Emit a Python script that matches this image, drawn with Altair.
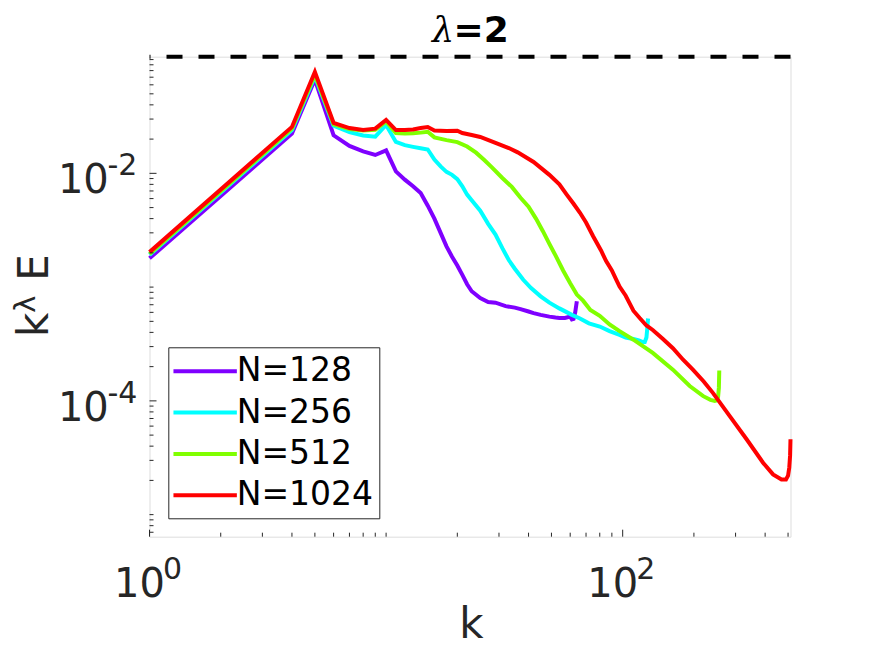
import altair as alt
import pandas as pd

series_names = ["N=128", "N=256", "N=512", "N=1024"]
series_colors = ["#7F00FF", "#00FFFF", "#80FF00", "#FF0000"]

k_128 = [1, 4, 5, 6, 7, 8, 9, 10, 11, 12, 13, 14, 15, 16, 17, 18, 19, 20, 21, 22, 23,
         25, 27, 29, 32, 35, 37, 40, 42, 45, 49, 52, 54, 57, 60, 61, 62, 63, 64]
e_128 = [1.79e-3, 0.0224, 0.0668, 0.0216, 0.0174, 0.0156, 0.0145, 0.0159, 0.0104, 0.0088,
         0.0077, 0.0067, 0.0052, 0.0040, 0.0030, 0.00228, 0.00185, 0.00155, 0.00128, 0.00106,
         0.00092, 0.00080, 0.00074, 0.00073, 0.00068, 0.00066, 0.00064, 0.00061, 0.00059,
         0.00057, 0.00055, 0.00054, 0.000535, 0.000535, 0.00055, 0.00052, 0.000525, 0.00060,
         0.00075]

k_256 = [1, 4, 5, 6, 7, 8, 9, 10, 11, 12, 13, 14, 15, 16, 17, 18, 19, 20, 21, 22, 23,
         25, 27, 29, 31, 33, 35, 38, 41, 45, 49, 54, 61, 66, 72, 80, 88, 97, 103, 111, 117,
         121, 124, 126, 127, 128]
e_256 = [1.92e-3, 0.0240, 0.0712, 0.0262, 0.0230, 0.0215, 0.0210, 0.0266, 0.0189, 0.0177,
         0.0171, 0.0166, 0.0162, 0.0132, 0.0115, 0.0103, 0.0097, 0.0089, 0.0077, 0.0065,
         0.0058, 0.0047, 0.0036, 0.0029, 0.0022, 0.00173, 0.00145, 0.00116, 0.00098, 0.00083,
         0.00073, 0.00065, 0.00057, 0.00053, 0.00048, 0.00045, 0.00041, 0.00038, 0.00036,
         0.00035, 0.00034, 0.00033, 0.00033, 0.00036, 0.00043, 0.00053]

k_512 = [1, 4, 5, 6, 7, 8, 9, 10, 11, 12, 13, 14, 15, 16, 18, 20, 22, 24, 26, 28, 31, 34,
         37, 40, 43, 46, 49, 52, 56, 60, 64, 68, 73, 80, 88, 97, 111, 134, 163, 192, 219,
         235, 245, 250, 253, 255, 256]
e_512 = [1.95e-3, 0.0247, 0.0735, 0.0270, 0.0245, 0.0238, 0.0242, 0.0285, 0.0226, 0.0224,
         0.0225, 0.0228, 0.0232, 0.0207, 0.0196, 0.0188, 0.0172, 0.0152, 0.0131, 0.0113,
         0.0091, 0.0076, 0.0061, 0.0051, 0.0040, 0.0031, 0.0024, 0.0019, 0.00140, 0.00108,
         0.00086, 0.00076, 0.00063, 0.00056, 0.00047, 0.00041, 0.000345, 0.000264, 0.000188,
         0.000135, 0.000110, 0.000102, 0.000100, 0.000101, 0.000108, 0.00013, 0.000185]

k_1024 = [1, 4, 5, 6, 7, 8, 9, 10, 11, 12, 13, 14, 15, 16, 18, 20, 21, 23, 25, 29, 33, 36,
          42, 49, 54, 58, 62, 66, 70, 75, 81, 85, 90, 94, 97, 103, 107, 111, 118, 126, 134,
          148, 163, 180, 198, 220, 241, 284, 334, 392, 432, 469, 490, 500, 506, 510, 512]
e_1024 = [2.03e-3, 0.0256, 0.0778, 0.0277, 0.0250, 0.0240, 0.0247, 0.0295, 0.0240, 0.0240,
          0.0243, 0.0250, 0.0255, 0.0238, 0.0236, 0.0237, 0.0226, 0.0217, 0.0209, 0.0185,
          0.0167, 0.0153, 0.0126, 0.0097, 0.0080, 0.0065, 0.0054, 0.0045, 0.0037, 0.0028,
          0.0021, 0.0017, 0.0014, 0.00116, 0.00101, 0.00084, 0.00072, 0.00062, 0.000535,
          0.00046, 0.00042, 0.00035, 0.00029, 0.00023, 0.000188, 0.000148, 0.000117, 7.3e-5,
          4.6e-5, 2.86e-5, 2.26e-5, 2.04e-5, 2.04e-5, 2.2e-5, 2.6e-5, 3.3e-5, 4.6e-5]

x_domain = [1, 512]
y_domain = [6.4e-6, 0.106]
top_line = [0.106]

x_major = [1, 100]
x_minor = [m * 10 ** e for e in range(0, 3) for m in range(2, 10) if m * 10 ** e < 512] + [10]
y_major = [1e-4, 1e-2]
y_minor = [round(m * 10.0 ** e, 12) for e in range(-6, 0) for m in range(1, 10)
           if y_domain[0] <= m * 10.0 ** e <= y_domain[1]]
y_minor = [v for v in y_minor if v not in y_major]
x_base = ["10", "10"]
x_exp = ["0", "2"]
y_base = ["10", "10"]
y_exp = ["-4", "-2"]

rows = []
for name, ks, es in [("N=128", k_128, e_128), ("N=256", k_256, e_256),
                     ("N=512", k_512, e_512), ("N=1024", k_1024, e_1024)]:
    for kk, ee in zip(ks, es):
        rows.append({"N": name, "k": kk, "E": ee})
df = pd.DataFrame(rows)

W, H = 641, 480
FONT = "DejaVu Sans"
AX = "#262626"
MINOR = "#b4b4b4"
MAJOR = "#d9d9d9"

xscale = alt.Scale(type="log", domain=x_domain, nice=False)
yscale = alt.Scale(type="log", domain=y_domain, nice=False)

x_all = sorted(set(x_major + x_minor))
y_all = sorted(set(y_major + y_minor))

xmaj_test = "datum.value == 1 || datum.value == 100"
ymaj_test = "datum.value == 0.01 || datum.value == 0.0001"

x_axis = alt.Axis(
    values=x_all, labels=False, ticks=False, grid=True,
    gridColor={"condition": {"test": xmaj_test, "value": MAJOR}, "value": MINOR},
    gridDash={"condition": {"test": xmaj_test, "value": []}, "value": [1, 3]},
    gridWidth=1, domainColor=AX, domainWidth=1, title=None,
)
y_axis = alt.Axis(
    values=y_all, labels=False, ticks=False, grid=True,
    gridColor={"condition": {"test": ymaj_test, "value": MAJOR}, "value": MINOR},
    gridDash={"condition": {"test": ymaj_test, "value": []}, "value": [1, 3]},
    gridWidth=1, domainColor=AX, domainWidth=1, title=None,
)

lines = alt.Chart(df).mark_line(strokeWidth=4).encode(
    x=alt.X("k:Q", scale=xscale, axis=x_axis),
    y=alt.Y("E:Q", scale=yscale, axis=y_axis),
    color=alt.Color(
        "N:N", sort=series_names,
        scale=alt.Scale(domain=series_names, range=series_colors),
        legend=alt.Legend(
            orient="none", legendX=18.8, legendY=290.6, direction="vertical",
            title=None, strokeColor=AX, fillColor="white", padding=6,
            symbolType="M-1,0H3", symbolSize=1005, symbolStrokeWidth=4,
            symbolOffset=-3,
            labelFont=FONT, labelFontSize=33, labelColor="black",
            labelOffset=29.5, rowPadding=6.3, labelLimit=300,
        ),
    ),
    order=alt.Order("k:Q"),
)

dash = alt.Chart(pd.DataFrame({"E": top_line})).mark_rule(
    color="black", strokeWidth=4, strokeDash=[16, 16]
).encode(y=alt.Y("E:Q", scale=yscale, axis=None))

xt_maj = alt.Chart(pd.DataFrame({"k": x_major})).mark_rule(color=AX, strokeWidth=1).encode(
    x=alt.X("k:Q", scale=xscale, axis=None), y=alt.value(H), y2=alt.value(H - 7))
xt_min = alt.Chart(pd.DataFrame({"k": x_minor})).mark_rule(color=AX, strokeWidth=1).encode(
    x=alt.X("k:Q", scale=xscale, axis=None), y=alt.value(H), y2=alt.value(H - 4))
yt_maj = alt.Chart(pd.DataFrame({"E": y_major})).mark_rule(color=AX, strokeWidth=1).encode(
    y=alt.Y("E:Q", scale=yscale, axis=None), x=alt.value(0), x2=alt.value(7))
yt_min = alt.Chart(pd.DataFrame({"E": y_minor})).mark_rule(color=AX, strokeWidth=1).encode(
    y=alt.Y("E:Q", scale=yscale, axis=None), x=alt.value(0), x2=alt.value(4))

ylab = alt.Chart(pd.DataFrame({"E": y_major, "lab": y_base})).mark_text(
    align="right", baseline="alphabetic", font=FONT, fontSize=40, color=AX, dy=20
).encode(y=alt.Y("E:Q", scale=yscale, axis=None), x=alt.value(-40.7), text="lab:N")
yexp = alt.Chart(pd.DataFrame({"E": y_major, "lab": y_exp})).mark_text(
    align="left", baseline="alphabetic", font=FONT, fontSize=30, color=AX, dy=1.7
).encode(y=alt.Y("E:Q", scale=yscale, axis=None), x=alt.value(-42), text="lab:N")
xlab = alt.Chart(pd.DataFrame({"k": x_major, "lab": x_base})).mark_text(
    align="right", baseline="alphabetic", font=FONT, fontSize=40, color=AX, dx=15.5
).encode(x=alt.X("k:Q", scale=xscale, axis=None), y=alt.value(H + 60.6), text="lab:N")
xexp = alt.Chart(pd.DataFrame({"k": x_major, "lab": x_exp})).mark_text(
    align="left", baseline="alphabetic", font=FONT, fontSize=30, color=AX, dx=13.5
).encode(x=alt.X("k:Q", scale=xscale, axis=None), y=alt.value(H + 42.6), text="lab:N")


def label(txt, x, y, **kw):
    return alt.Chart(pd.DataFrame({"t": [txt]})).mark_text(**kw).encode(
        x=alt.value(x), y=alt.value(y), text="t:N")


t_lam = label("λ", 282.5, -15, align="left", baseline="alphabetic", font="DejaVu Serif",
              fontStyle="italic", fontSize=35, color="black")
t_eq = label("=2", 304, -15, align="left", baseline="alphabetic", font=FONT,
             fontWeight="bold", fontSize=36, color="black")
x_title = label("k", 322, H + 101, align="center", baseline="alphabetic", font=FONT,
                fontSize=42, color=AX)
yl_k = label("k", -101.5, 280.3, align="left", baseline="alphabetic", font=FONT,
             fontSize=42, color=AX, angle=270)
yl_lam = label("λ", -115, 256, align="left", baseline="alphabetic", font=FONT,
               fontSize=29, color=AX, angle=270)
yl_e = label("E", -101.5, 224.1, align="left", baseline="alphabetic", font=FONT,
             fontSize=42, color=AX, angle=270)

chart = alt.layer(
    lines, dash, xt_maj, xt_min, yt_maj, yt_min, ylab, yexp, xlab, xexp,
    t_lam, t_eq, x_title, yl_k, yl_lam, yl_e,
).properties(
    width=W, height=H,
    autosize=alt.AutoSizeParams(type="none"),
    padding={"left": 141.5, "top": 48.7, "right": 70, "bottom": 111},
).configure_view(stroke="transparent").configure(font=FONT)

chart.save("out.html", embed_options={"renderer": "svg", "actions": False})
